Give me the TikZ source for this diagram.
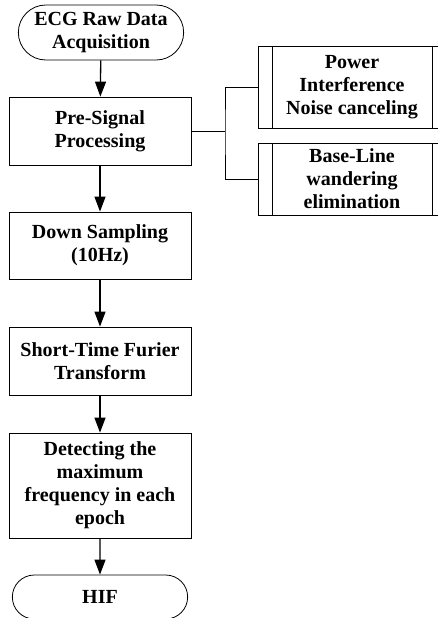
\documentclass[tikz,border=0pt]{standalone}
\usepackage{fontspec}
\setmainfont{Liberation Serif}
\usepackage{tikz}
\usetikzlibrary{shapes.misc,arrows.meta}

\tikzset{
    term/.style={draw, rounded rectangle, minimum width=172pt, minimum height=55pt,
        align=center, font=\fontsize{20}{23}\selectfont\bfseries, line width=0.8pt},
    proc/.style={draw, rectangle, minimum width=182pt, align=center,
        font=\fontsize{20}{23}\selectfont\bfseries, line width=0.8pt},
    subproc/.style={draw, rectangle, minimum width=188pt, minimum height=82pt, align=center,
        font=\fontsize{20}{23}\selectfont\bfseries, line width=0.8pt,
        path picture={
            \draw ([xshift=14pt]path picture bounding box.north west) -- ([xshift=14pt]path picture bounding box.south west);
            \draw ([xshift=-14pt]path picture bounding box.north east) -- ([xshift=-14pt]path picture bounding box.south east);
        }},
    flow/.style={line width=1.3pt, -{Triangle[length=15pt,width=11pt]}},
    link/.style={line width=0.8pt}
}

\begin{document}
\begin{tikzpicture}[x=1pt, y=-1pt]
    \useasboundingbox (0,0) rectangle (437,618);

    % main chain
    \node[term] (acq) at (101,32.5) {ECG Raw Data\\Acquisition};
    \node[proc, minimum height=68pt] (pre) at (100,131) {Pre-Signal\\Processing};
    \node[proc, minimum height=67pt] (down) at (100,245.5) {Down Sampling\\(10Hz)};
    \node[proc, minimum height=68pt] (stft) at (100,361) {Short-Time Furier\\Transform};
    \node[proc, minimum height=105pt] (detect) at (100,485.5) {Detecting the\\maximum\\frequency in each\\epoch};
    \node[term, minimum width=182pt, minimum height=44pt] (hif) at (100,597) {HIF};

    \draw[flow] (acq) -- (pre);
    \draw[flow] (pre) -- (down);
    \draw[flow] (down) -- (stft);
    \draw[flow] (stft) -- (detect);
    \draw[flow] (detect) -- (hif);

    % noise removal steps
    \node[subproc] (power) at (352,87) {Power\\Interference\\Noise canceling};
    \node[subproc, minimum height=72pt] (base) at (352,179) {Base-Line\\wandering\\elimination};

    \coordinate (split) at (225,131);
    \draw[link] (pre.east) -- (split);
    \draw[link] (power.west) -| (split) |- (base.west);
\end{tikzpicture}
\end{document}
